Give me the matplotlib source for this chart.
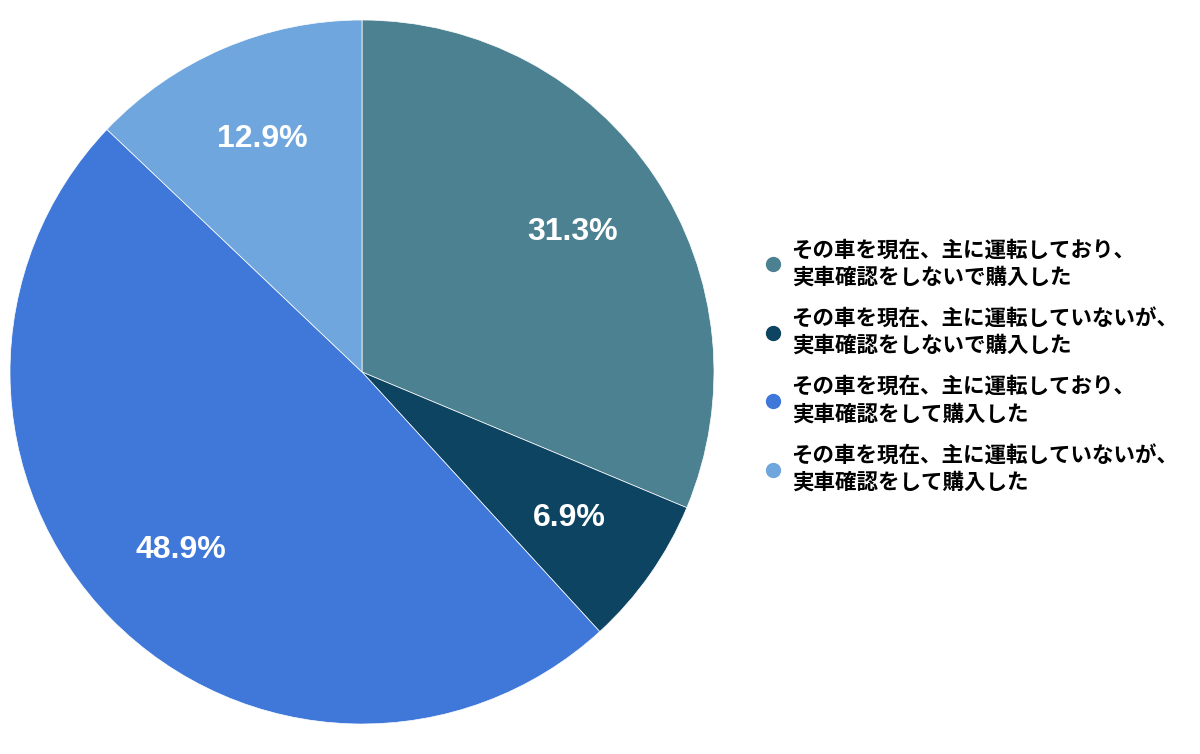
import matplotlib
matplotlib.use('Agg')
import matplotlib.pyplot as plt
from matplotlib.lines import Line2D

plt.rcParams['font.family'] = ['Noto Sans CJK JP', 'DejaVu Sans']

labels = [
  "その車を現在、主に運転しており、\n実車確認をしないで購入した",
  "その車を現在、主に運転していないが、\n実車確認をしないで購入した",
  "その車を現在、主に運転しており、\n実車確認をして購入した",
  "その車を現在、主に運転していないが、\n実車確認をして購入した",
]
shares = [31.3, 6.9, 48.9, 12.9]
colors = ["#4b8191", "#0c4462", "#3f78d9", "#6fa6de"]


fig = plt.figure(figsize=(12, 7.54), dpi=100)
ax = fig.add_axes([10/1200, 30/754, 704/1200, 704/754])
wedges, _, autotexts = ax.pie(shares, colors=colors, startangle=90, counterclock=False,
                              autopct='%1.1f%%', pctdistance=0.72,
                              wedgeprops=dict(linewidth=0.5, edgecolor='white'))
for t in autotexts:
  t.set_color('white')
  t.set_fontsize(23)
  t.set_fontweight('bold')
  t.set_fontfamily(['Liberation Sans', 'DejaVu Sans'])
ax.set_xlim(-1, 1)
ax.set_ylim(-1, 1)
ax.set_aspect('equal')

handles = [Line2D([], [], marker='o', linestyle='', markersize=10,
                  markerfacecolor=c, markeredgecolor=c) for c in colors]
leg = fig.legend(handles, labels, loc='center left', bbox_to_anchor=(741/1200, 1 - 366/754),
                 frameon=False, prop=dict(size=15.5, weight='bold'),
                 handletextpad=0.25, handlelength=1.2, labelspacing=0.95)
for t in leg.get_texts():
  t.set_linespacing(1.35)

plt.savefig("out.png", dpi=100)
